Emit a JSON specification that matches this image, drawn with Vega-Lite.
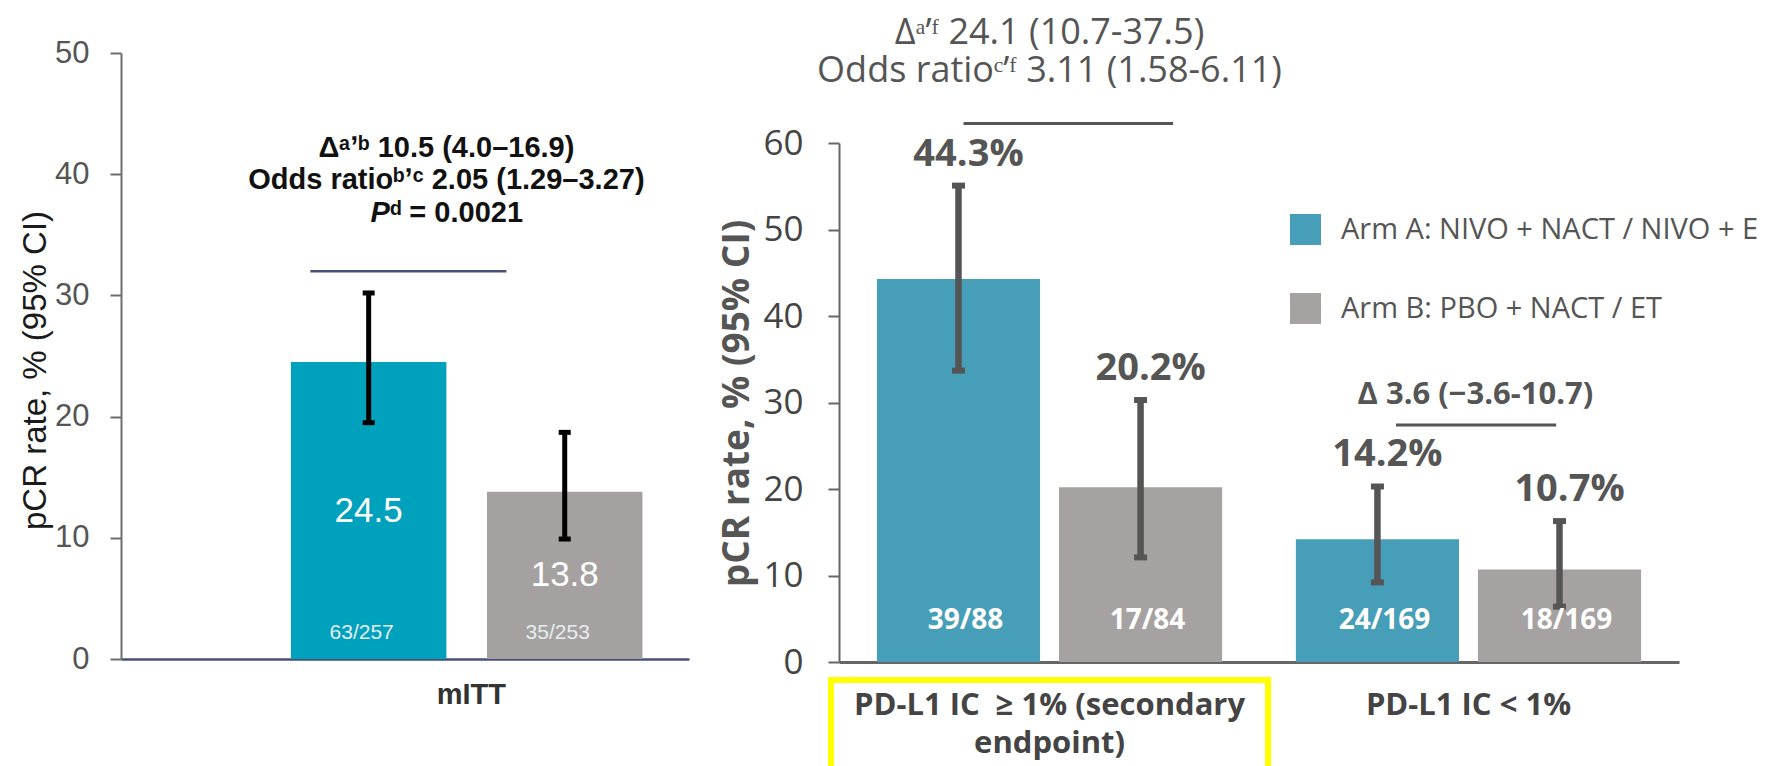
{
  "$schema": "https://vega.github.io/schema/vega-lite/v6.json",
  "bounds": "flush",
  "padding": {"left": 19, "top": 14, "right": 0, "bottom": 0},
  "background": "white",
  "spacing": 150,
  "config": {"view": {"stroke": null}, "axis": {"grid": false}},
  "resolve": {"scale": {"x": "independent", "y": "independent", "color": "independent", "xOffset": "independent"}},
  "hconcat": [
    {
      "width": 568,
      "height": 606,
      "data": {"values": [
        {"arm": "A", "pct": 24.5, "lo": 19.5, "hi": 30.2, "n": "63/257"},
        {"arm": "B", "pct": 13.8, "lo": 9.9, "hi": 18.7, "n": "35/253"}
      ]},
      "resolve": {"scale": {"y": "independent"}},
      "layer": [
        {
          "layer": [
            {
              "mark": {"type": "bar"},
              "encoding": {
                "x": {"field": "arm", "type": "nominal", "scale": {"domain": ["A", "B"], "paddingInner": 0.207, "paddingOuter": 0.552, "align": 0.785}, "axis": {"title": null, "labels": false, "ticks": false, "domainColor": "#45517a", "domainWidth": 2.5}},
                "y": {"field": "pct", "type": "quantitative", "scale": {"domain": [0, 50], "nice": false}, "axis": {"title": "pCR rate, % (95% CI)", "titleFont": "Liberation Sans", "titleFontSize": 33, "titleFontWeight": "normal", "titleColor": "#1a1a1a", "titlePadding": 2, "titleY": 317, "values": [0, 10, 20, 30, 40, 50], "labelFont": "Liberation Sans", "labelFontSize": 31, "labelColor": "#555555", "labelPadding": 21, "tickSize": 11, "tickWidth": 2, "tickColor": "#6e6e6e", "domainColor": "#6e6e6e", "domainWidth": 2}},
                "color": {"field": "arm", "type": "nominal", "scale": {"domain": ["A", "B"], "range": ["#00A1BC", "#A6A1A1"]}, "legend": null}
              }
            },
            {
              "mark": {"type": "rule", "strokeWidth": 5, "color": "#000000"},
              "encoding": {"x": {"field": "arm", "type": "nominal"}, "y": {"field": "lo", "type": "quantitative"}, "y2": {"field": "hi"}}
            },
            {
              "mark": {"type": "tick", "thickness": 5, "size": 12, "color": "#000000", "opacity": 1},
              "encoding": {"x": {"field": "arm", "type": "nominal"}, "y": {"field": "lo", "type": "quantitative"}}
            },
            {
              "mark": {"type": "tick", "thickness": 5, "size": 12, "color": "#000000", "opacity": 1},
              "encoding": {"x": {"field": "arm", "type": "nominal"}, "y": {"field": "hi", "type": "quantitative"}}
            },
            {
              "mark": {"type": "text", "font": "Liberation Sans", "fontSize": 21, "color": "#E4EEF0", "dx": -7, "baseline": "middle"},
              "encoding": {"x": {"field": "arm", "type": "nominal"}, "y": {"datum": 2.14, "type": "quantitative"}, "text": {"field": "n"}}
            },
            {
              "data": {"values": [{"t": "Δᵃʼᵇ 10.5 (4.0–16.9)"}]},
              "mark": {"type": "text", "font": "Liberation Sans", "fontSize": 29, "fontWeight": "bold", "color": "#111111", "baseline": "middle"},
              "encoding": {"x": {"datum": "A", "type": "nominal", "bandPosition": 1.0}, "y": {"datum": 42.2, "type": "quantitative"}, "text": {"field": "t"}}
            },
            {
              "data": {"values": [{"t": "Odds ratioᵇʼᶜ 2.05 (1.29–3.27)"}]},
              "mark": {"type": "text", "font": "Liberation Sans", "fontSize": 29, "fontWeight": "bold", "color": "#111111", "baseline": "middle"},
              "encoding": {"x": {"datum": "A", "type": "nominal", "bandPosition": 1.0}, "y": {"datum": 39.5, "type": "quantitative"}, "text": {"field": "t"}}
            },
            {
              "data": {"values": [{"t": "P"}]},
              "mark": {"type": "text", "font": "Liberation Sans", "fontSize": 29, "fontWeight": "bold", "fontStyle": "italic", "color": "#111111", "baseline": "middle", "align": "right"},
              "encoding": {"x": {"datum": "A", "type": "nominal", "bandPosition": 0.637}, "y": {"datum": 36.8, "type": "quantitative"}, "text": {"field": "t"}}
            },
            {
              "data": {"values": [{"t": "ᵈ = 0.0021"}]},
              "mark": {"type": "text", "font": "Liberation Sans", "fontSize": 29, "fontWeight": "bold", "color": "#111111", "baseline": "middle", "align": "left"},
              "encoding": {"x": {"datum": "A", "type": "nominal", "bandPosition": 0.637}, "y": {"datum": 36.8, "type": "quantitative"}, "text": {"field": "t"}}
            },
            {
              "data": {"values": [{}]},
              "mark": {"type": "rule", "strokeWidth": 2.5, "color": "#45517a"},
              "encoding": {"x": {"datum": "A", "type": "nominal", "bandPosition": 0.125}, "x2": {"datum": "B", "bandPosition": 0.125}, "y": {"datum": 32.0, "type": "quantitative"}}
            },
            {
              "data": {"values": [{"t": "mITT"}]},
              "mark": {"type": "text", "font": "Liberation Sans", "fontSize": 29, "fontWeight": "bold", "color": "#333333", "baseline": "middle"},
              "encoding": {"x": {"datum": "A", "type": "nominal", "bandPosition": 1.16}, "y": {"datum": -2.97, "type": "quantitative"}, "text": {"field": "t"}}
            }
          ]
        },
        {
          "mark": {"type": "text", "font": "Liberation Sans", "fontSize": 35, "color": "#FFFFFF", "baseline": "middle"},
          "encoding": {
            "x": {"field": "arm", "type": "nominal"},
            "y": {"field": "pct", "type": "quantitative", "scale": {"domain": [0, 100], "nice": false}, "axis": null},
            "text": {"field": "pct", "type": "quantitative", "format": ".1f"}
          }
        }
      ]
    },
    {
      "width": 840,
      "height": 609,
      "data": {"values": [
        {"grp": "G1", "arm": "A", "pct": 44.3, "lo": 33.7, "hi": 55.1, "n": "39/88", "label": "44.3%"},
        {"grp": "G1", "arm": "B", "pct": 20.2, "lo": 12.1, "hi": 30.3, "n": "17/84", "label": "20.2%"},
        {"grp": "G2", "arm": "A", "pct": 14.2, "lo": 9.2, "hi": 20.3, "n": "24/169", "label": "14.2%"},
        {"grp": "G2", "arm": "B", "pct": 10.7, "lo": 6.4, "hi": 16.3, "n": "18/169", "label": "10.7%"}
      ]},
      "layer": [
        {
          "mark": {"type": "bar"},
          "encoding": {
            "x": {"field": "grp", "type": "nominal", "scale": {"domain": ["G1", "G2"], "paddingInner": 0.176, "paddingOuter": 0.0905}, "axis": {"title": null, "ticks": false, "labelAngle": 0, "labelExpr": "datum.value == 'G1' ? ['PD-L1 IC \u00a0≥ 1% (secondary', 'endpoint)'] : 'PD-L1 IC < 1%'", "labelFont": "Open Sans", "labelFontSize": 31, "labelFontWeight": "bold", "labelColor": "#444444", "labelLineHeight": 38, "labelPadding": 28, "labelLimit": 0, "labelOverlap": false, "domainColor": "#666666", "domainWidth": 3}},
            "xOffset": {"field": "arm", "type": "nominal", "scale": {"domain": ["A", "B"], "paddingInner": 0.104, "paddingOuter": 0}},
            "y": {"field": "pct", "type": "quantitative", "scale": {"domain": [0, 70.44], "nice": false}, "axis": {"title": "pCR rate, % (95% CI)", "titleFont": "Open Sans", "titleFontSize": 37, "titleFontWeight": "bold", "titleColor": "#555555", "titleY": 350, "titlePadding": 6, "values": [0, 10, 20, 30, 40, 50, 60], "labelFont": "Open Sans", "labelFontSize": 35, "labelColor": "#444444", "labelPadding": 25, "tickSize": 11, "tickWidth": 2, "tickColor": "#666666", "domainColor": "#666666", "domainWidth": 2, "domainDash": [519, 2000]}},
            "color": {"field": "arm", "type": "nominal", "scale": {"domain": ["A", "B"], "range": ["#479EB8", "#A7A2A2"]}, "legend": {"title": null, "orient": "none", "legendX": 451, "legendY": 161, "symbolType": "square", "symbolSize": 961, "symbolStrokeWidth": 0, "symbolOpacity": 1, "labelFont": "Open Sans", "labelFontSize": 29, "labelColor": "#555555", "labelOffset": 20, "rowPadding": 48, "padding": 0, "labelLimit": 0, "labelExpr": "datum.value == 'A' ? 'Arm A: NIVO + NACT / NIVO + E' : 'Arm B: PBO + NACT / ET'"}}
          }
        },
        {
          "mark": {"type": "rule", "strokeWidth": 6.5, "color": "#555555"},
          "encoding": {"x": {"field": "grp", "type": "nominal"}, "xOffset": {"field": "arm", "type": "nominal"}, "y": {"field": "lo", "type": "quantitative"}, "y2": {"field": "hi"}}
        },
        {
          "mark": {"type": "tick", "thickness": 6, "size": 13, "color": "#555555", "opacity": 1},
          "encoding": {"x": {"field": "grp", "type": "nominal"}, "xOffset": {"field": "arm", "type": "nominal"}, "y": {"field": "lo", "type": "quantitative"}}
        },
        {
          "mark": {"type": "tick", "thickness": 6, "size": 13, "color": "#555555", "opacity": 1},
          "encoding": {"x": {"field": "grp", "type": "nominal"}, "xOffset": {"field": "arm", "type": "nominal"}, "y": {"field": "hi", "type": "quantitative"}}
        },
        {
          "mark": {"type": "text", "font": "Open Sans", "fontSize": 38, "fontWeight": "bold", "color": "#555555", "baseline": "alphabetic", "dy": -20, "dx": 10},
          "encoding": {"x": {"field": "grp", "type": "nominal"}, "xOffset": {"field": "arm", "type": "nominal"}, "y": {"field": "hi", "type": "quantitative"}, "text": {"field": "label"}}
        },
        {
          "mark": {"type": "text", "font": "Open Sans", "fontSize": 28, "fontWeight": "bold", "color": "#FFFFFF", "baseline": "middle", "dx": 7},
          "encoding": {"x": {"field": "grp", "type": "nominal"}, "xOffset": {"field": "arm", "type": "nominal"}, "y": {"datum": 4.74, "type": "quantitative"}, "text": {"field": "n"}}
        },
        {
          "data": {"values": [{"t": "Δᵃʼᶠ 24.1 (10.7-37.5)"}]},
          "mark": {"type": "text", "font": "Open Sans", "fontSize": 36, "color": "#555555", "baseline": "middle"},
          "encoding": {"x": {"datum": "G1", "type": "nominal"}, "y": {"datum": 72.8, "type": "quantitative"}, "text": {"field": "t"}}
        },
        {
          "data": {"values": [{"t": "Odds ratioᶜʼᶠ 3.11 (1.58-6.11)"}]},
          "mark": {"type": "text", "font": "Open Sans", "fontSize": 36, "color": "#555555", "baseline": "middle"},
          "encoding": {"x": {"datum": "G1", "type": "nominal"}, "y": {"datum": 68.4, "type": "quantitative"}, "text": {"field": "t"}}
        },
        {
          "data": {"values": [{"t": "Δ 3.6 (−3.6-10.7)"}]},
          "mark": {"type": "text", "font": "Open Sans", "fontSize": 31, "fontWeight": "bold", "color": "#555555", "baseline": "middle"},
          "encoding": {"x": {"datum": "G2", "type": "nominal", "bandPosition": 0.52}, "y": {"datum": 30.9, "type": "quantitative"}, "text": {"field": "t"}}
        },
        {
          "data": {"values": [{}]},
          "mark": {"type": "rule", "strokeWidth": 3, "color": "#555555"},
          "encoding": {"x": {"datum": "G1", "type": "nominal", "bandPosition": 0.251}, "x2": {"datum": "G1", "bandPosition": 0.858}, "y": {"datum": 62.3, "type": "quantitative"}}
        },
        {
          "data": {"values": [{}]},
          "mark": {"type": "rule", "strokeWidth": 3, "color": "#555555"},
          "encoding": {"x": {"datum": "G2", "type": "nominal", "bandPosition": 0.29}, "x2": {"datum": "G2", "bandPosition": 0.754}, "y": {"datum": 27.4, "type": "quantitative"}}
        },
        {
          "data": {"values": [{}]},
          "mark": {"type": "rule", "strokeWidth": 6, "color": "#FFFF00", "strokeCap": "square"},
          "encoding": {"x": {"datum": "G1", "type": "nominal", "bandPosition": -0.133}, "x2": {"datum": "G1", "bandPosition": 1.133}, "y": {"datum": -2.08, "type": "quantitative"}}
        },
        {
          "data": {"values": [{}]},
          "mark": {"type": "rule", "strokeWidth": 6, "color": "#FFFF00", "strokeCap": "square"},
          "encoding": {"x": {"datum": "G1", "type": "nominal", "bandPosition": -0.133}, "y": {"datum": -2.08, "type": "quantitative"}, "y2": {"datum": -11.7}}
        },
        {
          "data": {"values": [{}]},
          "mark": {"type": "rule", "strokeWidth": 6, "color": "#FFFF00", "strokeCap": "square"},
          "encoding": {"x": {"datum": "G1", "type": "nominal", "bandPosition": 1.133}, "y": {"datum": -2.08, "type": "quantitative"}, "y2": {"datum": -11.7}}
        }
      ]
    }
  ]
}
